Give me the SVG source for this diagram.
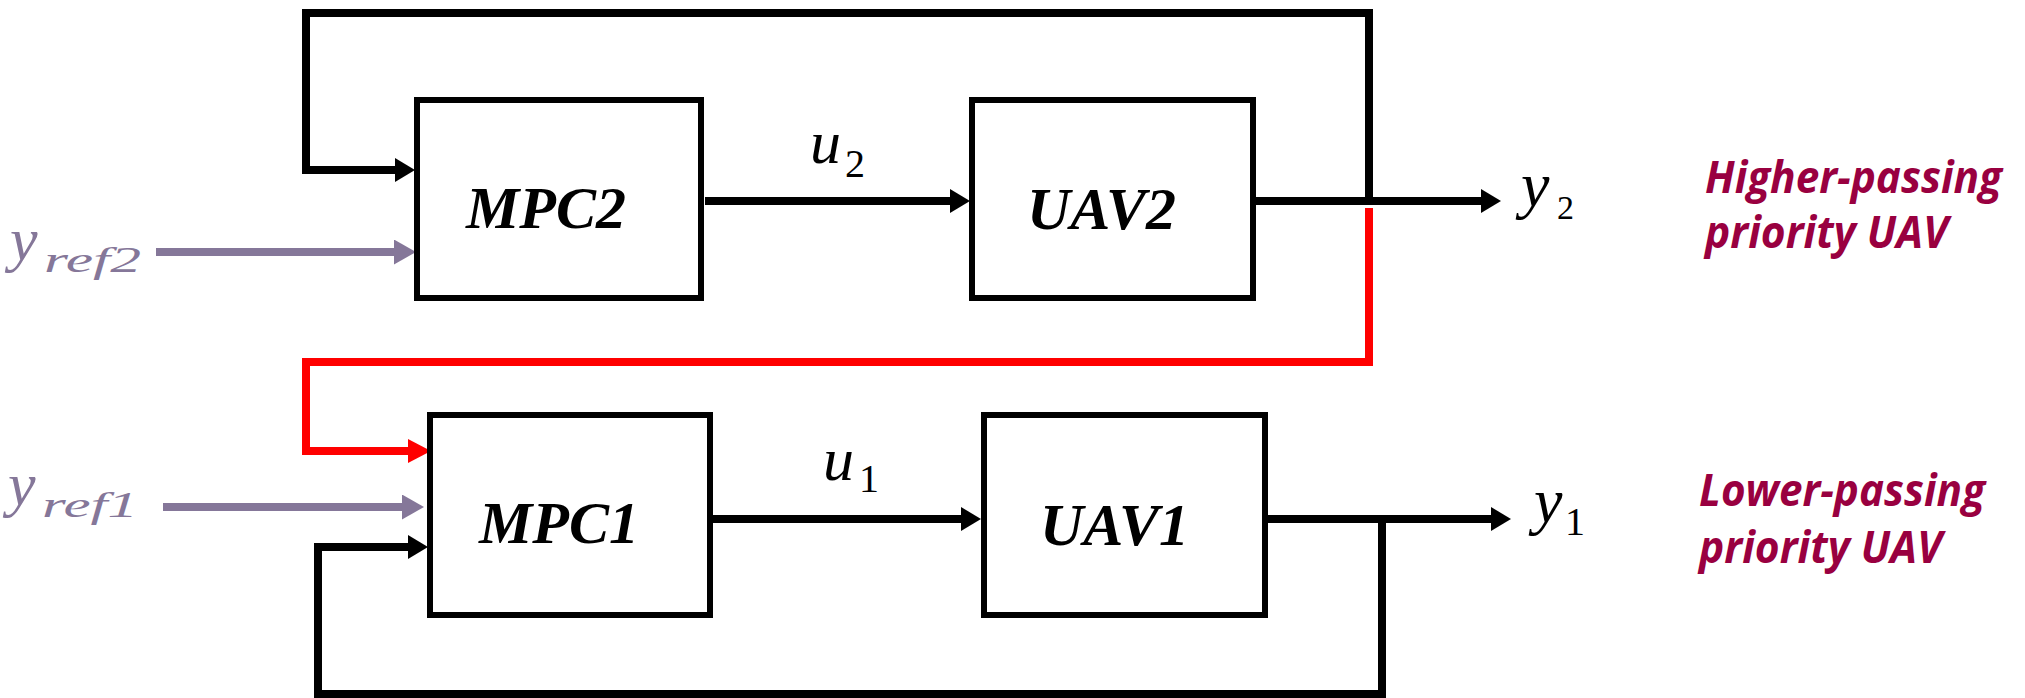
<svg xmlns="http://www.w3.org/2000/svg" width="2025" height="698" viewBox="0 0 2025 698">
<style>
.box{fill:#fff;stroke:#000;stroke-width:6}
.lbl{font-family:"Liberation Serif",serif;font-weight:bold;font-style:italic;font-size:60px;fill:#000}
.math{font-family:"Liberation Serif",serif;font-style:italic;fill:#000}
.num{font-family:"Liberation Serif",serif;fill:#000}
.ref{fill:#857799}
.note{font-family:"Open Sans","Liberation Sans",sans-serif;font-weight:bold;font-style:italic;font-size:44px;fill:#990040}
.blk{fill:none;stroke:#000;stroke-width:8}
.red{fill:none;stroke:#ff0000;stroke-width:8}
.pur{fill:none;stroke:#857799;stroke-width:8}
</style>
<defs>
<marker id="ah" markerUnits="userSpaceOnUse" markerWidth="22" markerHeight="26" refX="2" refY="12" orient="auto"><path d="M0,0 L20,12 L0,24 z" fill="#000"/></marker>
<marker id="ahr" markerUnits="userSpaceOnUse" markerWidth="25" markerHeight="26" refX="2" refY="12" orient="auto"><path d="M0,0 L23,12 L0,24 z" fill="#ff0000"/></marker>
<marker id="ahp" markerUnits="userSpaceOnUse" markerWidth="25" markerHeight="27" refX="2" refY="12.5" orient="auto"><path d="M0,0 L22,12.5 L0,25 z" fill="#857799"/></marker>
</defs>
<g id="connectors">
<path class="blk" d="M1369 205 V13 H306 V170 H397" marker-end="url(#ah)"/>
<path class="blk" d="M705 201 H952" marker-end="url(#ah)"/>
<path class="blk" d="M1256 201 H1483" marker-end="url(#ah)"/>
<path class="red" d="M1369 208 V362 H306 V451 H410" marker-end="url(#ahr)"/>
<path class="pur" d="M156 252 H396" marker-end="url(#ahp)"/>
<path class="pur" d="M163 507 H404" marker-end="url(#ahp)"/>
<path class="blk" d="M1382 519 V694 H318 V547 H410" marker-end="url(#ah)"/>
<path class="blk" d="M713 519 H963" marker-end="url(#ah)"/>
<path class="blk" d="M1268 519 H1493" marker-end="url(#ah)"/>
</g>
<g id="mpc2">
<rect class="box" x="417" y="100" width="284" height="198"/>
<text class="lbl" x="466" y="228">MPC2</text>
</g>
<g id="uav2">
<rect class="box" x="972" y="100" width="281" height="198"/>
<text class="lbl" x="1027" y="229">UAV2</text>
</g>
<g id="mpc1">
<rect class="box" x="430" y="415" width="280" height="200"/>
<text class="lbl" x="479" y="543">MPC1</text>
</g>
<g id="uav1">
<rect class="box" x="984" y="415" width="281" height="200"/>
<text class="lbl" x="1040" y="545">UAV1</text>
</g>
<g id="labels">
<text class="math ref" x="10" y="260" font-size="62">y</text>
<text class="math ref" x="44" y="272" font-size="36" textLength="97" lengthAdjust="spacingAndGlyphs">ref2</text>
<text class="math ref" x="8" y="505" font-size="62">y</text>
<text class="math ref" x="42" y="517" font-size="36" textLength="96" lengthAdjust="spacingAndGlyphs">ref1</text>
<text class="math" x="810" y="163" font-size="62">u</text>
<text class="num" x="845" y="177" font-size="40">2</text>
<text class="math" x="823" y="480" font-size="62">u</text>
<text class="num" x="859" y="492" font-size="40">1</text>
<text class="math" x="1521" y="206" font-size="64">y</text>
<text class="num" x="1557" y="219" font-size="34">2</text>
<text class="math" x="1534" y="522" font-size="64">y</text>
<text class="num" x="1565" y="535" font-size="40">1</text>
</g>
<g id="notes">
<text class="note" x="1705" y="193" textLength="297" lengthAdjust="spacingAndGlyphs">Higher-passing</text>
<text class="note" x="1705" y="248" textLength="243" lengthAdjust="spacingAndGlyphs">priority UAV</text>
<text class="note" x="1699" y="506" textLength="286" lengthAdjust="spacingAndGlyphs">Lower-passing</text>
<text class="note" x="1699" y="563" textLength="243" lengthAdjust="spacingAndGlyphs">priority UAV</text>
</g>
</svg>
